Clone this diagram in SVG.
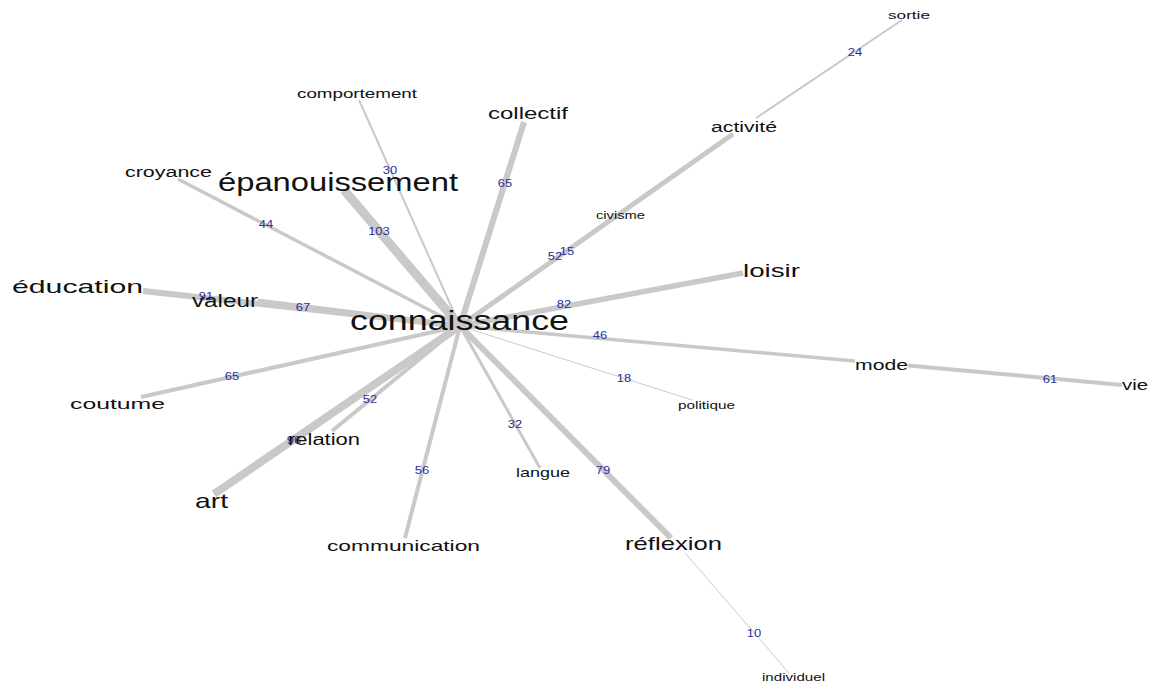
<svg xmlns="http://www.w3.org/2000/svg" width="1149" height="683" viewBox="0 0 1149 683">
<style>
.e{stroke:#c9c9c9;stroke-linecap:butt;fill:none}
.w{font-family:"Liberation Sans",Arial,sans-serif;font-size:10px;fill:#2e2e98;text-anchor:middle}
.n{font-family:"Liberation Sans",Arial,sans-serif;fill:#111}
</style>
<rect width="1149" height="683" fill="#ffffff"/>
<g id="connectors">
<line class="e" x1="460" y1="326" x2="359" y2="100" stroke-width="2"/>
<line class="e" x1="460" y1="326" x2="178" y2="179" stroke-width="3.5"/>
<line class="e" x1="460" y1="326" x2="344" y2="190" stroke-width="9"/>
<line class="e" x1="460" y1="326" x2="143" y2="291" stroke-width="6"/>
<line class="e" x1="460" y1="326" x2="258" y2="301" stroke-width="5"/>
<line class="e" x1="460" y1="326" x2="141" y2="397" stroke-width="4"/>
<line class="e" x1="460" y1="326" x2="332" y2="431" stroke-width="4"/>
<line class="e" x1="460" y1="326" x2="214" y2="494" stroke-width="8"/>
<line class="e" x1="460" y1="326" x2="405" y2="538" stroke-width="4"/>
<line class="e" x1="460" y1="326" x2="540" y2="468" stroke-width="3"/>
<line class="e" x1="460" y1="326" x2="671" y2="538" stroke-width="6"/>
<line class="e" x1="685" y1="553" x2="789" y2="673" stroke-width="1"/>
<line class="e" x1="460" y1="326" x2="692" y2="400" stroke-width="1"/>
<line class="e" x1="460" y1="326" x2="855" y2="361" stroke-width="3.5"/>
<line class="e" x1="908" y1="365.5" x2="1122" y2="385" stroke-width="4"/>
<line class="e" x1="460" y1="326" x2="743" y2="273" stroke-width="5.5"/>
<line class="e" x1="460" y1="326" x2="524" y2="122" stroke-width="6"/>
<line class="e" x1="460" y1="326" x2="733" y2="134" stroke-width="5"/>
<line class="e" x1="460" y1="326" x2="609" y2="221" stroke-width="1"/>
<line class="e" x1="756" y1="118" x2="902" y2="20" stroke-width="2"/>
<g id="edge-labels">
<text class="w" x="855" y="56" textLength="14.4" lengthAdjust="spacingAndGlyphs">24</text>
<text class="w" x="555" y="260" textLength="14.4" lengthAdjust="spacingAndGlyphs">52</text>
<text class="w" x="567" y="255" textLength="14.4" lengthAdjust="spacingAndGlyphs">15</text>
<text class="w" x="505" y="187" textLength="14.4" lengthAdjust="spacingAndGlyphs">65</text>
<text class="w" x="390" y="173.5" textLength="14.4" lengthAdjust="spacingAndGlyphs">30</text>
<text class="w" x="266" y="228" textLength="14.4" lengthAdjust="spacingAndGlyphs">44</text>
<text class="w" x="379" y="234.5" textLength="21.7" lengthAdjust="spacingAndGlyphs">103</text>
<text class="w" x="206" y="300" textLength="14.4" lengthAdjust="spacingAndGlyphs">91</text>
<text class="w" x="303" y="311" textLength="14.4" lengthAdjust="spacingAndGlyphs">67</text>
<text class="w" x="564" y="308" textLength="14.4" lengthAdjust="spacingAndGlyphs">82</text>
<text class="w" x="600" y="339" textLength="14.4" lengthAdjust="spacingAndGlyphs">46</text>
<text class="w" x="624" y="382" textLength="14.4" lengthAdjust="spacingAndGlyphs">18</text>
<text class="w" x="1050" y="383" textLength="14.4" lengthAdjust="spacingAndGlyphs">61</text>
<text class="w" x="232" y="380" textLength="14.4" lengthAdjust="spacingAndGlyphs">65</text>
<text class="w" x="370" y="403" textLength="14.4" lengthAdjust="spacingAndGlyphs">52</text>
<text class="w" x="294" y="444" textLength="14.4" lengthAdjust="spacingAndGlyphs">96</text>
<text class="w" x="422" y="474" textLength="14.4" lengthAdjust="spacingAndGlyphs">56</text>
<text class="w" x="515" y="427.5" textLength="14.4" lengthAdjust="spacingAndGlyphs">32</text>
<text class="w" x="603" y="474" textLength="14.4" lengthAdjust="spacingAndGlyphs">79</text>
<text class="w" x="754" y="637" textLength="14.4" lengthAdjust="spacingAndGlyphs">10</text>
</g>
</g>
<g id="node-sortie"><text class="n" x="888" y="19" font-size="11" textLength="42" lengthAdjust="spacingAndGlyphs">sortie</text></g>
<g id="node-activite"><text class="n" x="711" y="132" font-size="14" textLength="66" lengthAdjust="spacingAndGlyphs">activité</text></g>
<g id="node-civisme"><text class="n" x="596" y="219" font-size="10.5" textLength="49" lengthAdjust="spacingAndGlyphs">civisme</text></g>
<g id="node-collectif"><text class="n" x="488" y="119" font-size="16" textLength="80" lengthAdjust="spacingAndGlyphs">collectif</text></g>
<g id="node-comportement"><text class="n" x="297" y="98" font-size="13" textLength="120" lengthAdjust="spacingAndGlyphs">comportement</text></g>
<g id="node-croyance"><text class="n" x="125" y="177" font-size="14" textLength="87" lengthAdjust="spacingAndGlyphs">croyance</text></g>
<g id="node-epanouissement"><text class="n" x="218" y="191" font-size="25" textLength="240" lengthAdjust="spacingAndGlyphs">épanouissement</text></g>
<g id="node-education"><text class="n" x="12" y="293" font-size="19" textLength="131" lengthAdjust="spacingAndGlyphs">éducation</text></g>
<g id="node-valeur"><text class="n" x="192" y="307" font-size="18" textLength="66" lengthAdjust="spacingAndGlyphs">valeur</text></g>
<g id="node-connaissance"><text class="n" x="350" y="330" font-size="27" textLength="219" lengthAdjust="spacingAndGlyphs">connaissance</text></g>
<g id="node-loisir"><text class="n" x="743" y="277" font-size="18.5" textLength="57" lengthAdjust="spacingAndGlyphs">loisir</text></g>
<g id="node-mode"><text class="n" x="855" y="370" font-size="15" textLength="53" lengthAdjust="spacingAndGlyphs">mode</text></g>
<g id="node-vie"><text class="n" x="1122" y="390" font-size="15" textLength="26" lengthAdjust="spacingAndGlyphs">vie</text></g>
<g id="node-politique"><text class="n" x="678" y="409" font-size="11.5" textLength="57" lengthAdjust="spacingAndGlyphs">politique</text></g>
<g id="node-langue"><text class="n" x="516" y="477" font-size="13.5" textLength="54" lengthAdjust="spacingAndGlyphs">langue</text></g>
<g id="node-reflexion"><text class="n" x="625" y="550" font-size="19" textLength="97" lengthAdjust="spacingAndGlyphs">réflexion</text></g>
<g id="node-individuel"><text class="n" x="762" y="681" font-size="11" textLength="63" lengthAdjust="spacingAndGlyphs">individuel</text></g>
<g id="node-communication"><text class="n" x="327" y="551" font-size="15" textLength="153" lengthAdjust="spacingAndGlyphs">communication</text></g>
<g id="node-coutume"><text class="n" x="70" y="409" font-size="15.5" textLength="95" lengthAdjust="spacingAndGlyphs">coutume</text></g>
<g id="node-relation"><text class="n" x="288" y="445" font-size="16" textLength="72" lengthAdjust="spacingAndGlyphs">relation</text></g>
<g id="node-art"><text class="n" x="195" y="508" font-size="21" textLength="33" lengthAdjust="spacingAndGlyphs">art</text></g>
</svg>
